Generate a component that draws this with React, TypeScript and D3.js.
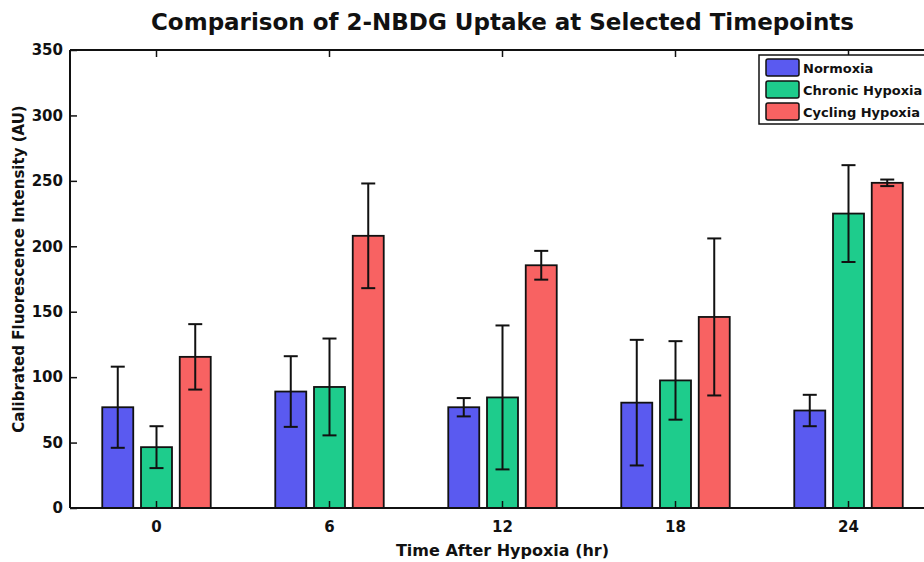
import React, { useEffect, useRef } from 'react';
import * as d3 from 'd3';

const timepoints = ['0', '6', '12', '18', '24'];
const seriesNames = ['Normoxia', 'Chronic Hypoxia', 'Cycling Hypoxia'];
const seriesColors = ['#5a5af0', '#1ecc8c', '#f86262'];

const normoxiaMean = [77, 89, 77, 80.5, 74.5];
const normoxiaErr = [31, 27, 7, 48, 12];
const chronicMean = [46.5, 92.5, 84.5, 97.5, 225];
const chronicErr = [16, 37, 55, 30, 37];
const cyclingMean = [115.5, 208, 185.5, 146, 248.5];
const cyclingErr = [25, 40, 11, 60, 2.5];

const yTicks = [0, 50, 100, 150, 200, 250, 300, 350];

const App = () => {
  const svgRef = useRef(null);
  const width = 924;
  const height = 562;
  const margin = { top: 50, left: 70, bottom: 54, right: -11 };
  const innerW = width - margin.left - margin.right;
  const innerH = height - margin.top - margin.bottom;

  useEffect(() => {
    const svgEl = d3.select(svgRef.current);
    svgEl.selectAll('*').remove();

    const font = "'DejaVu Sans', Verdana, sans-serif";
    const series = [
      { name: seriesNames[0], color: seriesColors[0], mean: normoxiaMean, err: normoxiaErr },
      { name: seriesNames[1], color: seriesColors[1], mean: chronicMean, err: chronicErr },
      { name: seriesNames[2], color: seriesColors[2], mean: cyclingMean, err: cyclingErr },
    ];

    const x0 = d3.scaleBand().domain(timepoints).range([0, innerW]);
    const groupW = x0.bandwidth() * 0.627;
    const x1 = d3
      .scaleBand()
      .domain(seriesNames)
      .range([0, groupW])
      .paddingInner(0.2);
    const y = d3.scaleLinear().domain([0, 350]).range([innerH, 0]);

    const svg = svgEl
      .append('g')
      .attr('transform', `translate(${margin.left},${margin.top})`);

    // bars
    series.forEach((s) => {
      svg
        .append('g')
        .selectAll('rect')
        .data(timepoints)
        .enter()
        .append('rect')
        .attr('x', (t) => x0(t) + (x0.bandwidth() - groupW) / 2 + x1(s.name))
        .attr('y', (t, i) => y(s.mean[i]))
        .attr('width', x1.bandwidth())
        .attr('height', (t, i) => y(0) - y(s.mean[i]))
        .attr('fill', s.color)
        .attr('stroke', '#111')
        .attr('stroke-width', 1.8);
    });

    // error bars
    series.forEach((s) => {
      const g = svg.append('g').attr('stroke', '#111').attr('stroke-width', 2);
      timepoints.forEach((t, i) => {
        const cx =
          x0(t) + (x0.bandwidth() - groupW) / 2 + x1(s.name) + x1.bandwidth() / 2;
        const top = y(s.mean[i] + s.err[i]);
        const bot = y(s.mean[i] - s.err[i]);
        g.append('line').attr('x1', cx).attr('x2', cx).attr('y1', top).attr('y2', bot);
        g.append('line').attr('x1', cx - 7).attr('x2', cx + 7).attr('y1', top).attr('y2', top);
        g.append('line').attr('x1', cx - 7).attr('x2', cx + 7).attr('y1', bot).attr('y2', bot);
      });
    });

    // frame
    const frame = svg.append('g').attr('stroke', '#111').attr('stroke-width', 2);
    frame.append('line').attr('x1', 0).attr('x2', 0).attr('y1', 0).attr('y2', innerH);
    frame.append('line').attr('x1', 0).attr('x2', innerW).attr('y1', innerH).attr('y2', innerH);
    frame.append('line').attr('x1', 0).attr('x2', innerW).attr('y1', 0).attr('y2', 0);
    frame.append('line').attr('x1', innerW).attr('x2', innerW).attr('y1', 0).attr('y2', innerH);

    // y axis
    const yAxis = d3.axisLeft(y).tickValues(yTicks).tickSize(-7).tickPadding(7);
    const yAxisGroup = svg.append('g').call(yAxis);
    yAxisGroup.select('.domain').remove();
    yAxisGroup.selectAll('line').attr('stroke', '#111').attr('stroke-width', 1.5);
    yAxisGroup
      .selectAll('text')
      .attr('fill', '#111')
      .attr('font-family', font)
      .attr('font-weight', 'bold')
      .attr('font-size', 15);

    // x axis
    const xAxis = d3.axisBottom(x0).tickSize(-7).tickPadding(13);
    const xAxisGroup = svg
      .append('g')
      .attr('transform', `translate(0, ${innerH})`)
      .call(xAxis);
    xAxisGroup.select('.domain').remove();
    xAxisGroup.selectAll('line').attr('stroke', '#111').attr('stroke-width', 1.5);
    xAxisGroup
      .selectAll('text')
      .attr('fill', '#111')
      .attr('font-family', font)
      .attr('font-weight', 'bold')
      .attr('font-size', 15);

    // top ticks
    svg
      .append('g')
      .selectAll('line')
      .data(timepoints)
      .enter()
      .append('line')
      .attr('x1', (t) => x0(t) + x0.bandwidth() / 2)
      .attr('x2', (t) => x0(t) + x0.bandwidth() / 2)
      .attr('y1', 0)
      .attr('y2', 7)
      .attr('stroke', '#111')
      .attr('stroke-width', 1.5);

    // title and axis labels
    svgEl
      .append('text')
      .attr('x', margin.left + innerW / 2)
      .attr('y', 30)
      .attr('text-anchor', 'middle')
      .attr('font-family', font)
      .attr('font-weight', 'bold')
      .attr('font-size', 23)
      .attr('fill', '#111')
      .text('Comparison of 2-NBDG Uptake at Selected Timepoints');

    svgEl
      .append('text')
      .attr('x', margin.left + innerW / 2)
      .attr('y', 556)
      .attr('text-anchor', 'middle')
      .attr('font-family', font)
      .attr('font-weight', 'bold')
      .attr('font-size', 16)
      .attr('fill', '#111')
      .text('Time After Hypoxia (hr)');

    svgEl
      .append('text')
      .attr('transform', `translate(24, ${margin.top + innerH / 2 - 10}) rotate(-90)`)
      .attr('text-anchor', 'middle')
      .attr('font-family', font)
      .attr('font-weight', 'bold')
      .attr('font-size', 15)
      .attr('fill', '#111')
      .text('Calibrated Fluorescence Intensity (AU)');

    // legend
    const legend = svgEl.append('g').attr('transform', 'translate(759, 55)');
    legend
      .append('rect')
      .attr('width', 200)
      .attr('height', 69)
      .attr('fill', '#fff')
      .attr('stroke', '#111')
      .attr('stroke-width', 1.5);
    series.forEach((s, i) => {
      const row = legend.append('g').attr('transform', `translate(7, ${4 + i * 22})`);
      row
        .append('rect')
        .attr('width', 33)
        .attr('height', 17)
        .attr('rx', 2)
        .attr('fill', s.color)
        .attr('stroke', '#111')
        .attr('stroke-width', 1.5);
      row
        .append('text')
        .attr('x', 37)
        .attr('y', 14)
        .attr('font-family', font)
        .attr('font-weight', 'bold')
        .attr('font-size', 13)
        .attr('fill', '#111')
        .text(s.name);
    });
  }, []);

  return (
    <div style={{ position: 'fixed', left: 0, top: 0, width, height, overflow: 'hidden', background: '#fff' }}>
      <svg ref={svgRef} width={width} height={height} />
    </div>
  );
};

export default App;
